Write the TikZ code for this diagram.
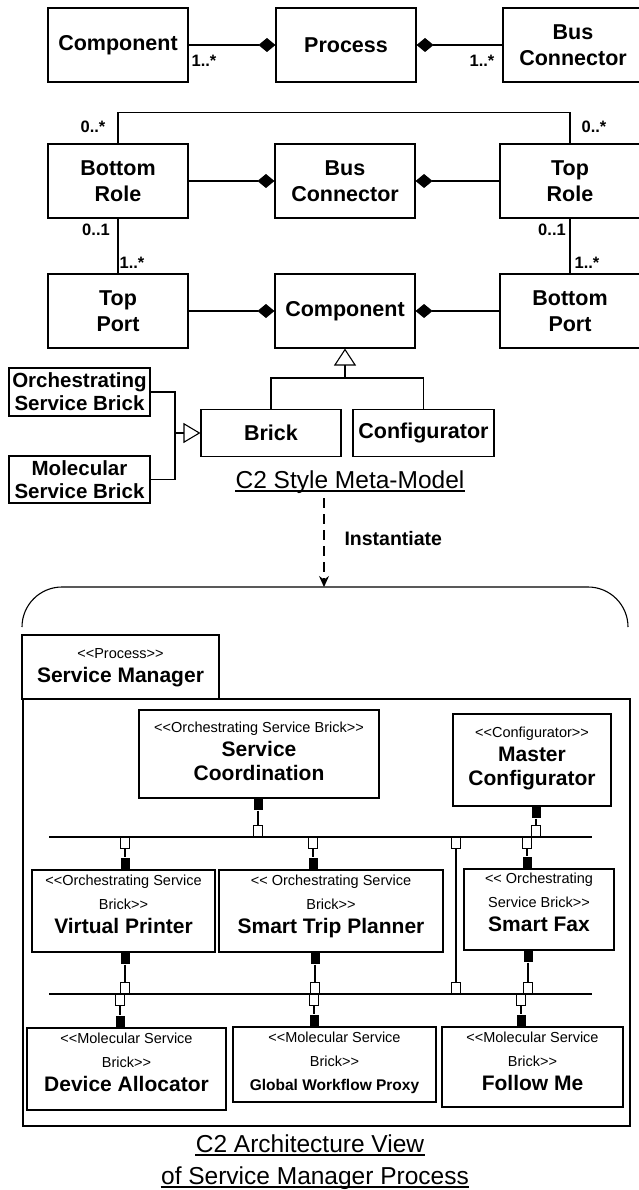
\documentclass[tikz,border=0pt]{standalone}
\usepackage{fontspec}
\setmainfont{Liberation Sans}
\usepackage{tikz}
\usetikzlibrary{arrows.meta, positioning}

\newcommand{\classfont}{\fontsize{21.5}{26}\selectfont\bfseries}
\newcommand{\brickfont}{\fontsize{20.5}{23}\selectfont\bfseries}
\newcommand{\multfont}{\fontsize{16.5}{18}\selectfont\bfseries}
\newcommand{\stfont}{\fontsize{14.5}{24}\selectfont}
\newcommand{\namefont}{\fontsize{21}{24}\selectfont\bfseries}
\newcommand{\smallname}{\fontsize{15.5}{24}\selectfont\bfseries}
\newcommand{\captfont}{\fontsize{24.5}{28}\selectfont}
\newcommand{\instfont}{\fontsize{19.5}{22}\selectfont\bfseries}
% guillemets written as two signs, not as one ligature
\newcommand{\stopen}{<\kern0pt<}
\newcommand{\stclose}{>\kern0pt>}

\begin{document}
\begin{tikzpicture}[x=1pt, y=-1pt, line width=1.1pt,
    classbox/.style={draw, minimum width=140pt, minimum height=74pt, inner sep=0pt, align=center, font=\classfont},
    subbox/.style={draw, minimum width=141pt, minimum height=48pt, inner sep=0pt, align=center, font=\brickfont},
    partbox/.style={draw, inner sep=0pt, align=center, font=\stfont, text depth=14.5pt},
    multlbl/.style={inner sep=0pt, font=\multfont},
    portsq/.style={fill=black, minimum width=9pt, minimum height=11pt, inner sep=0pt},
    plugsq/.style={draw, fill=white, minimum width=9pt, minimum height=11pt, inner sep=0pt, line width=0.9pt},
    compose/.style={-{Diamond[length=17pt, width=14pt]}},
    inherit/.style={-{Triangle[open, length=17pt, width=22pt]}},
    busline/.style={line width=1.8pt}]
\useasboundingbox (0,0) rectangle (639,1190);

% ---- meta-model ----
\node[classbox] (comp) at (118,45) {Component};
\node[classbox] (proc) at (346,45) {Process};
\node[classbox] (bus) at (573,45) {Bus\\Connector};
\node[classbox] (brole) at (118,181) {Bottom\\Role};
\node[classbox] (conn) at (345,181) {Bus\\Connector};
\node[classbox] (trole) at (570,181) {Top\\Role};
\node[classbox] (tport) at (118,311) {Top\\Port};
\node[classbox] (comp2) at (345,311) {Component};
\node[classbox] (bport) at (570,311) {Bottom\\Port};
\node[classbox, minimum height=47pt] (brick) at (271,433) {Brick};
\node[classbox, minimum height=47pt, minimum width=141pt] (config) at (423.5,433) {Configurator};
\node[subbox] (orch) at (79.5,392) {Orchestrating\\Service Brick};
\node[subbox, minimum height=47pt] (molec) at (79.5,479.5) {Molecular\\Service Brick};

\draw[compose] (comp) -- (proc);
\draw[compose] (bus) -- (proc);
\draw[compose] (brole) -- (conn);
\draw[compose] (trole) -- (conn);
\draw[compose] (tport) -- (comp2);
\draw[compose] (bport) -- (comp2);
\draw (brole) -- (tport);
\draw (trole) -- (bport);
\draw (brole.north) -- ++(0,-31) -| (trole.north);

\node[multlbl] (m1) at (204,61) {1..*};
\node[multlbl] (m2) at (482,61) {1..*};
\node[multlbl] (m3) at (93,127) {0..*};
\node[multlbl] (m4) at (594,127) {0..*};
\node[multlbl] (m5) at (96,230) {0..1};
\node[multlbl] (m6) at (552,230) {0..1};
\node[multlbl] (m7) at (132,263) {1..*};
\node[multlbl] (m8) at (587,263) {1..*};

% generalisations
\coordinate (fork) at (345,378);
\draw (brick.north) |- (fork) -| (config.north);
\draw[inherit] (fork) -- (comp2.south);
\coordinate (join) at (175,433);
\draw (orch.east) -| (join) |- (molec.east);
\draw[inherit, -{Triangle[open, length=17pt, width=20pt]}] (join) -- (brick.west);

\node[anchor=base, inner sep=0pt, font=\captfont] (metatitle) at (350,488) {C2 Style Meta-Model};
\draw ([yshift=-3pt]metatitle.base west) -- ([yshift=-3pt]metatitle.base east);

% instantiation
\coordinate (inst-from) at (324,498);
\coordinate (inst-to) at (324,587);
\draw[dash pattern=on 10pt off 6pt, -{Stealth[length=11pt, width=10pt]}] (inst-from) -- (inst-to);
\node[anchor=west, inner sep=0pt, font=\instfont] (inst) at (344,539) {Instantiate};
\draw[rounded corners=40pt] (22,627) |- (628,587) -- (628,627);

% ---- architecture view ----
\node[draw, minimum width=197pt, minimum height=64pt, inner sep=0pt, align=center, font=\stfont, text depth=3.5pt] (smtab) at (120.5,667) {\stopen Process\stclose\\{\namefont Service Manager}};
\node[draw, minimum width=607pt, minimum height=427pt, inner sep=0pt] (smbody) at (326.5,912.5) {};

\node[partbox, minimum width=240pt, minimum height=88pt, text depth=6.5pt] (sc) at (259,754) {\stopen Orchestrating Service Brick\stclose\\{\namefont Service}\\{\namefont Coordination}};
\node[partbox, minimum width=158pt, minimum height=92pt, text depth=7.5pt] (mc) at (532,760) {\stopen Configurator\stclose\\{\namefont Master}\\{\namefont Configurator}};
\node[partbox, minimum width=183pt, minimum height=82pt] (vp) at (123.5,911) {\stopen Orchestrating Service\\Brick\stclose\\{\namefont Virtual Printer}};
\node[partbox, minimum width=224pt, minimum height=82pt] (stp) at (331,911) {\stopen\ Orchestrating Service\\Brick\stclose\\{\namefont Smart Trip Planner}};
\node[partbox, minimum width=150pt, minimum height=81pt] (sf) at (539,909.5) {\stopen\ Orchestrating\\Service Brick\stclose\\{\namefont Smart Fax}};
\node[partbox, minimum width=199pt, minimum height=82pt] (da) at (126.5,1069) {\stopen Molecular Service\\Brick\stclose\\{\namefont Device Allocator}};
\node[partbox, minimum width=203pt, minimum height=75pt, text depth=7.5pt] (gwp) at (334.5,1064.5) {\stopen Molecular Service\\Brick\stclose\\{\smallname Global Workflow Proxy}};
\node[partbox, minimum width=181pt, minimum height=80pt, text depth=12.5pt] (fm) at (532.5,1067) {\stopen Molecular Service\\Brick\stclose\\{\namefont Follow Me}};

% buses
\coordinate (upper-w) at (49,837);
\coordinate (upper-e) at (592,837);
\coordinate (lower-w) at (49,994);
\coordinate (lower-e) at (592,994);
\draw[busline] (upper-w) -- (upper-e);
\draw[busline] (lower-w) -- (lower-e);

% ports and links
\foreach \n/\x in {sc/258, mc/536} {
  \node[portsq, anchor=north] (\n-p) at (\x,0 |- \n.south) {};
  \node[plugsq, anchor=south] (\n-q) at (\x,837) {};
  \draw (\n-p) -- (\n-q);
}
\foreach \n/\x in {vp/125, stp/313, sf/527} {
  \node[plugsq, anchor=north] (\n-q) at (\x,837) {};
  \node[portsq, anchor=south] (\n-p) at (\x,0 |- \n.north) {};
  \draw (\n-q) -- (\n-p);
}
\foreach \n/\x in {vp/125, stp/315, sf/528} {
  \node[portsq, anchor=north] (\n-pb) at (\x,0 |- \n.south) {};
  \node[plugsq, anchor=south] (\n-qb) at (\x,994) {};
  \draw (\n-pb) -- (\n-qb);
}
\foreach \n/\x in {da/120, gwp/314, fm/521} {
  \node[plugsq, anchor=north] (\n-q) at (\x,994) {};
  \node[portsq, anchor=south] (\n-p) at (\x,0 |- \n.north) {};
  \draw (\n-q) -- (\n-p);
}
\node[plugsq, anchor=north] (tie-a) at (456,837) {};
\node[plugsq, anchor=south] (tie-b) at (456,994) {};
\draw (tie-a) -- (tie-b);

\node[anchor=base, inner sep=0pt, font=\captfont] (view1) at (310,1152) {C2 Architecture View};
\draw ([yshift=-3pt]view1.base west) -- ([yshift=-3pt]view1.base east);
\node[anchor=base, inner sep=0pt, font=\captfont] (view2) at (315,1184) {of Service Manager Process};
\draw ([yshift=-3pt]view2.base west) -- ([yshift=-3pt]view2.base east);
\end{tikzpicture}
\end{document}
